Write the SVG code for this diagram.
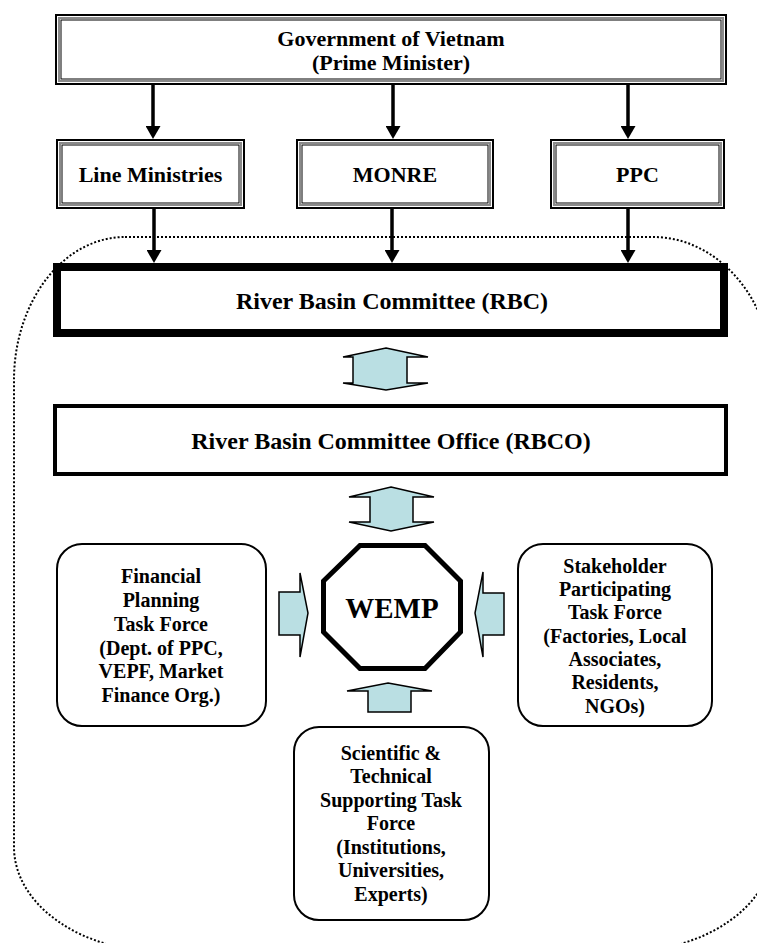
<svg xmlns="http://www.w3.org/2000/svg" width="757" height="943" viewBox="0 0 757 943">
<style>
  text { font-family: "Liberation Serif", "Times New Roman", serif; font-weight: bold; fill: #000; text-anchor: middle; }
  .t22 { font-size: 22px; }
  .t24 { font-size: 24px; }
  .t20 { font-size: 20px; }
  .t29 { font-size: 29px; }
  .b3o { fill: #fff; stroke: #000; stroke-width: 2; }
  .b3m { fill: none; stroke: #8a8a8a; stroke-width: 2; }
  .b3i { fill: none; stroke: #000; stroke-width: 1; }
  .rbox { fill: #fff; stroke: #000; stroke-width: 2; }
  .conn { stroke: #000; stroke-width: 3.5; fill: none; marker-end: url(#ah); }
  .blk { fill: #BADFE3; stroke: #000; stroke-width: 1.5; stroke-linejoin: miter; }
  .dots { fill: none; stroke: #000; stroke-width: 2; stroke-dasharray: 2 2; }
</style>
<defs>
  <marker id="ah" markerUnits="userSpaceOnUse" viewBox="0 0 13 15" markerWidth="13" markerHeight="15" refX="3" refY="7.5" orient="auto">
    <path d="M0,0 L13,7.5 L0,15 Z" fill="#000"/>
  </marker>
</defs>
<rect width="757" height="943" fill="#fff"/>

<path id="boundary" class="dots" d="M125,237 L653,237 A120,143 0 0 1 773,380 L773,847 A150,105 0 0 1 623,952 L164,952 A150,105 0 0 1 14,847 L14,380 A111,143 0 0 1 125,237 Z"/>

<g id="connectors">
  <line class="conn" x1="153" y1="85" x2="153" y2="129"/>
  <line class="conn" x1="393" y1="85" x2="393" y2="129"/>
  <line class="conn" x1="628" y1="85" x2="628" y2="129"/>
  <line class="conn" x1="154" y1="209" x2="154" y2="253"/>
  <line class="conn" x1="392" y1="209" x2="392" y2="253"/>
  <line class="conn" x1="628" y1="209" x2="628" y2="253"/>
  <polygon class="blk" points="386,348 428,357 407,357 407,383 428,383 386,390 343,383 353,383 353,357 343,357"/>
  <polygon class="blk" points="391,487 434,497 413,497 413,522 434,522 391,531 349,522 370,522 370,497 349,497"/>
  <polygon class="blk" points="279,592 300,592 300,573 308,613 300,657 300,635 279,635"/>
  <polygon class="blk" points="504,593 483,593 483,572 475,613 483,657 483,635 504,635"/>
  <polygon class="blk" points="388,683 432,691 411,691 411,712 368,712 368,691 347,691"/>
</g>

<g id="gov">
  <rect class="b3o" x="56" y="15" width="670" height="69"/>
  <rect class="b3m" x="59" y="18" width="664" height="63"/>
  <rect class="b3i" x="61" y="20" width="660" height="59"/>
  <text class="t22" x="391" y="46">Government of Vietnam</text>
  <text class="t22" x="391" y="70">(Prime Minister)</text>
</g>

<g id="line-ministries">
  <rect class="b3o" x="57" y="140" width="187" height="68"/>
  <rect class="b3m" x="60" y="143" width="181" height="62"/>
  <rect class="b3i" x="62" y="145" width="177" height="58"/>
  <text class="t22" x="150.5" y="182">Line Ministries</text>
</g>

<g id="monre">
  <rect class="b3o" x="297" y="140" width="196" height="68"/>
  <rect class="b3m" x="300" y="143" width="190" height="62"/>
  <rect class="b3i" x="302" y="145" width="186" height="58"/>
  <text class="t22" x="395" y="182">MONRE</text>
</g>

<g id="ppc">
  <rect class="b3o" x="551" y="140" width="173" height="68"/>
  <rect class="b3m" x="554" y="143" width="167" height="62"/>
  <rect class="b3i" x="556" y="145" width="163" height="58"/>
  <text class="t22" x="637.5" y="182">PPC</text>
</g>

<g id="rbc">
  <rect x="57" y="267" width="667" height="66" fill="#fff" stroke="#000" stroke-width="8"/>
  <text class="t24" x="392" y="309">River Basin Committee (RBC)</text>
</g>

<g id="rbco">
  <rect x="55" y="406" width="671" height="68" fill="#fff" stroke="#000" stroke-width="4"/>
  <text class="t24" x="391" y="449">River Basin Committee Office (RBCO)</text>
</g>

<g id="wemp">
  <polygon points="360,545.5 425,545.5 460.5,581 460.5,632 425,668.5 360,668.5 323.5,632 323.5,581" fill="#fff" stroke="#000" stroke-width="5"/>
  <text class="t29" x="392" y="618">WEMP</text>
</g>

<g id="financial">
  <rect class="rbox" x="57" y="544" width="209" height="182" rx="25" ry="25"/>
  <text class="t20" x="161" y="583">Financial</text>
  <text class="t20" x="161" y="607">Planning</text>
  <text class="t20" x="161" y="631">Task Force</text>
  <text class="t20" x="161" y="655">(Dept. of PPC,</text>
  <text class="t20" x="161" y="678">VEPF, Market</text>
  <text class="t20" x="161" y="702">Finance Org.)</text>
</g>

<g id="stakeholder">
  <rect class="rbox" x="518" y="544" width="194" height="182" rx="25" ry="25"/>
  <text class="t20" x="615" y="573">Stakeholder</text>
  <text class="t20" x="615" y="596">Participating</text>
  <text class="t20" x="615" y="619">Task Force</text>
  <text class="t20" x="615" y="643">(Factories, Local</text>
  <text class="t20" x="615" y="666">Associates,</text>
  <text class="t20" x="615" y="689">Residents,</text>
  <text class="t20" x="615" y="713">NGOs)</text>
</g>

<g id="scientific">
  <rect class="rbox" x="294" y="727" width="195" height="193" rx="25" ry="25"/>
  <text class="t20" x="391" y="760">Scientific &amp;</text>
  <text class="t20" x="391" y="783">Technical</text>
  <text class="t20" x="391" y="807">Supporting Task</text>
  <text class="t20" x="391" y="830">Force</text>
  <text class="t20" x="391" y="854">(Institutions,</text>
  <text class="t20" x="391" y="877">Universities,</text>
  <text class="t20" x="391" y="901">Experts)</text>
</g>
</svg>
